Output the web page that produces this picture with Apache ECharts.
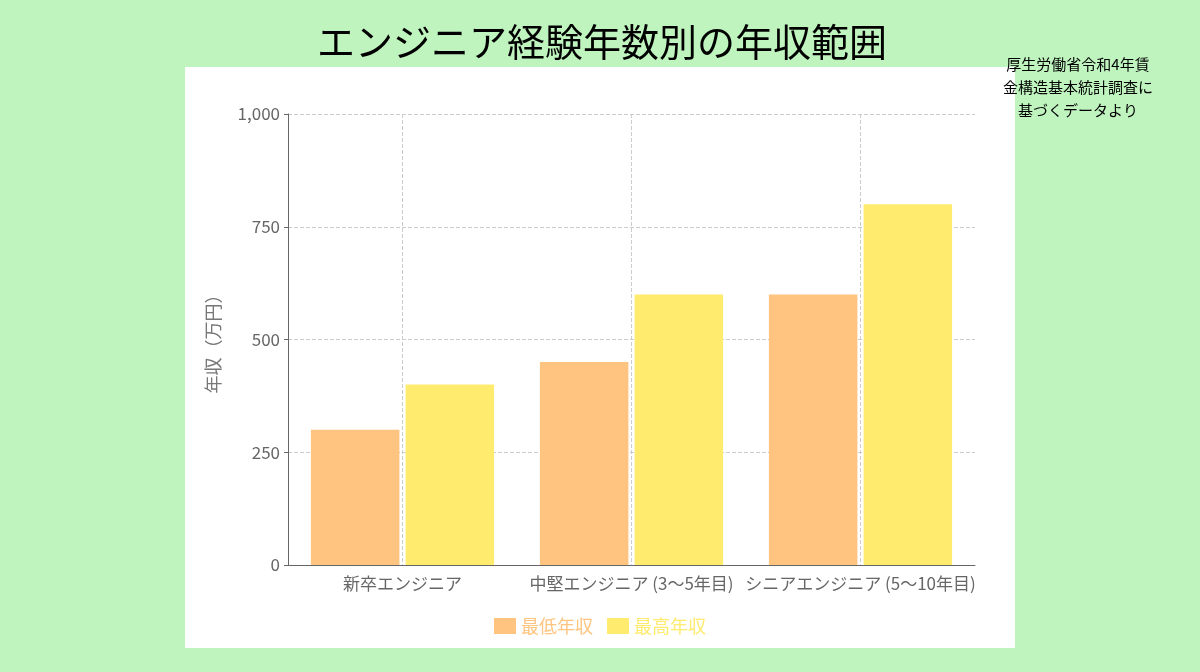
<!DOCTYPE html>
<html>
<head>
<meta charset="utf-8">
<script src="https://cdn.jsdelivr.net/npm/echarts@6/dist/echarts.min.js"></script>
<style>html,body{margin:0;padding:0}#main{width:1200px;height:672px}</style>
</head>
<body>
<div id="main"></div>
<script>
// 経験年数カテゴリ
const categories = ['新卒エンジニア', '中堅エンジニア (3〜5年目)', 'シニアエンジニア (5〜10年目)']
const minSalary = [300, 450, 600]
const maxSalary = [400, 600, 800]
const seriesNames = ['最低年収', '最高年収']

const chart = echarts.init(document.getElementById('main'))
const font = '"Noto Sans CJK JP", sans-serif'
chart.setOption({
  backgroundColor: '#c0f4bf',
  textStyle: { fontFamily: font },
  graphic: [{
    type: 'rect', z: -10,
    shape: { x: 185, y: 67, width: 830, height: 581 },
    style: { fill: '#ffffff' }
  }],
  title: [
    {
      text: 'エンジニア経験年数別の年収範囲',
      left: 597, top: 18, textAlign: 'center',
      textStyle: { fontSize: 38, fontWeight: 'normal', color: '#000', fontFamily: font }
    },
    {
      text: '厚生労働省令和4年賃\n金構造基本統計調査に\n基づくデータより',
      left: 1073, top: 48, textAlign: 'center',
      textStyle: { fontSize: 15, fontWeight: 'normal', color: '#000', lineHeight: 23, fontFamily: font, align: 'center' }
    }
  ],
  legend: {
    data: seriesNames,
    bottom: 32, left: 'center',
    itemWidth: 22, itemHeight: 16, itemGap: 14,
    icon: 'rect',
    textStyle: { fontSize: 18, color: 'inherit' }
  },
  grid: { left: 288, right: 225, top: 114, bottom: 107 },
  xAxis: {
    type: 'category',
    data: categories,
    axisLine: { lineStyle: { color: '#666' } },
    axisTick: { show: false },
    axisLabel: { fontSize: 17, color: '#666', interval: 0, margin: 10 },
    splitLine: { show: true, alignWithLabel: true, lineStyle: { type: 'dashed', color: '#ccc' } }
  },
  yAxis: {
    type: 'value',
    min: 0, max: 1000, interval: 250,
    name: '年収（万円）',
    nameLocation: 'middle',
    nameGap: 66,
    nameTextStyle: { fontSize: 18, color: '#777' },
    axisLine: { show: true, lineStyle: { color: '#666' } },
    axisTick: { show: true, length: 4 },
    axisLabel: { fontSize: 17, color: '#666' },
    splitLine: { lineStyle: { type: 'dashed', color: '#ccc' } }
  },
  series: [
    {
      name: seriesNames[0], type: 'bar', data: minSalary,
      itemStyle: { color: '#ffc47f' },
      barGap: '7%', barCategoryGap: '20%'
    },
    {
      name: seriesNames[1], type: 'bar', data: maxSalary,
      itemStyle: { color: '#ffeb6e' }
    }
  ]
})
</script>
</body>
</html>
